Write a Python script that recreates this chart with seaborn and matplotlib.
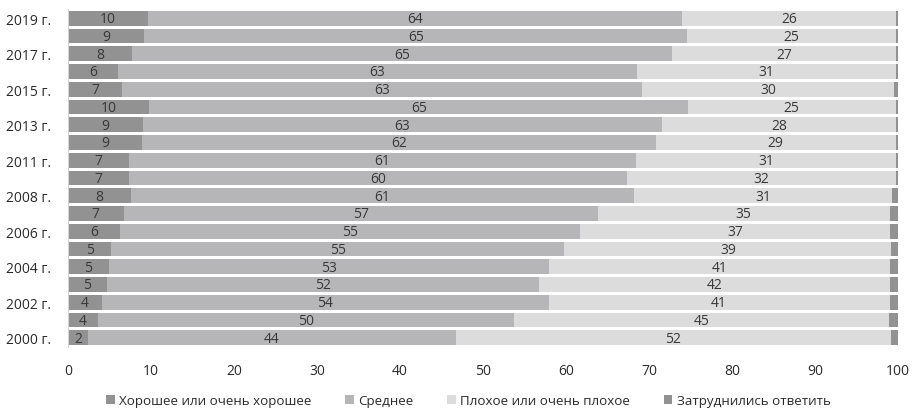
import matplotlib
matplotlib.use("Agg")
import matplotlib.pyplot as plt
import pandas as pd
import seaborn as sns
from matplotlib.patches import Patch

# Survey years, newest at the top
years = ["2019", "2018", "2017", "2016", "2015", "2014", "2013", "2012", "2011", "2010",
         "2008", "2007", "2006", "2005", "2004", "2003", "2002", "2001", "2000"]
labeled_years = ["2019", "2017", "2015", "2013", "2011", "2008", "2006", "2004", "2002", "2000"]

# Shares of answers, %
good = [9.6, 9.2, 7.75, 6.0, 6.55, 9.8, 9.0, 8.9, 7.3, 7.35,
        7.6, 6.7, 6.3, 5.2, 4.9, 4.7, 4.1, 3.65, 2.4]
average = [64.4, 65.4, 65.05, 62.6, 62.65, 64.9, 62.6, 61.9, 61.1, 59.95,
           60.6, 57.1, 55.4, 54.6, 53.1, 52.0, 53.8, 50.05, 44.3]
bad = [25.8, 25.2, 26.9, 31.1, 30.3, 25.0, 28.2, 28.9, 31.4, 32.4,
       31.1, 35.2, 37.3, 39.4, 41.0, 42.3, 41.1, 45.2, 52.4]
no_answer = [0.2, 0.2, 0.3, 0.3, 0.5, 0.3, 0.2, 0.3, 0.2, 0.3,
             0.7, 1.0, 1.0, 0.8, 1.0, 1.0, 1.0, 1.1, 0.9]

series_names = ["Хорошее или очень хорошее", "Среднее",
                "Плохое или очень плохое", "Затруднились ответить"]
colors = ["#929292", "#b6b6b8", "#dcdcdd", "#929292"]

df = pd.DataFrame({"year": years, "good": good, "average": average,
                   "bad": bad, "no_answer": no_answer})
df["c1"] = df["good"]
df["c2"] = df["c1"] + df["average"]
df["c3"] = df["c2"] + df["bad"]
df["c4"] = df["c3"] + df["no_answer"]

sns.set_theme(style="white")
plt.rcParams["font.family"] = ["Open Sans", "DejaVu Sans"]

fig = plt.figure(figsize=(9.13, 4.10), dpi=100)
ax = fig.add_axes([0.0745, 0.152, 0.9091, 0.8226])

# Stacked bars: draw cumulative totals from the back to the front
for col, color in zip(["c4", "c3", "c2", "c1"], colors[::-1]):
    sns.barplot(data=df, x=col, y="year", order=years, orient="h",
                color=color, saturation=1, width=0.83, linewidth=0, ax=ax)

# Value labels centred in the first three segments
for i, row in df.iterrows():
    starts = [0, row["c1"], row["c2"]]
    vals = [row["good"], row["average"], row["bad"]]
    for s, v in zip(starts, vals):
        ax.text(s + v / 2, i + 0.02, f"{v:.0f}", ha="center", va="center",
                fontsize=10, color="#383838")

ax.set_xlim(0, 100)
ax.set_xticks(range(0, 101, 10))
ax.set_yticks(range(len(years)))
ax.set_yticklabels([f"{y} г." if y in labeled_years else "" for y in years])
ax.set_xlabel("")
ax.set_ylabel("")
ax.tick_params(axis="both", length=0, labelsize=10, colors="#2a2a2a")
ax.tick_params(axis="x", pad=12)
ax.tick_params(axis="y", pad=12)
for side in ["top", "right", "bottom"]:
    ax.spines[side].set_visible(False)
ax.spines["left"].set_color("#d4d4d4")
ax.spines["left"].set_linewidth(0.8)

handles = [Patch(facecolor=c, edgecolor="none") for c in colors]
fig.legend(handles, series_names, loc="center", bbox_to_anchor=(0.513, 0.02),
           ncol=4, frameon=False, fontsize=9.6, handlelength=0.65, handleheight=0.65,
           handletextpad=0.35, columnspacing=2.5, labelcolor="#2a2a2a")

fig.savefig("out.png", dpi=100)
